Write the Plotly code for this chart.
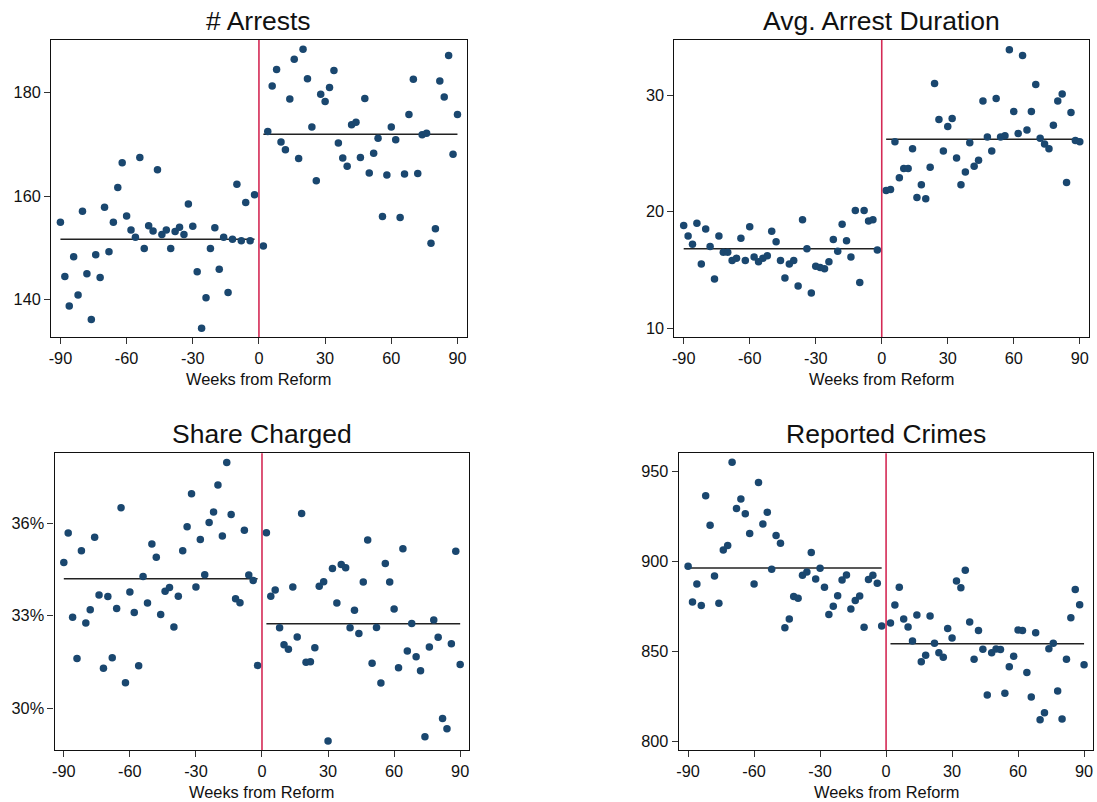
import plotly.graph_objects as go

weeks_pre = list(range(-90, 0, 2))
weeks_post = list(range(2, 91, 2))

arrests_pre = [155.0,144.5,138.8,148.3,140.9,157.1,145.0,136.2,148.7,144.3,
               157.9,149.3,155.0,161.7,166.5,156.2,153.5,152.1,167.5,149.9,
               154.3,153.3,165.1,152.6,153.5,149.9,153.2,154.0,152.6,158.5,
               154.2,145.4,134.5,140.4,149.9,153.9,145.9,152.1,141.4,151.7,
               162.3,151.4,158.8,151.4,160.3]
arrests_post = [150.4,172.5,181.3,184.5,170.5,169.0,178.8,186.5,167.3,188.4,
                182.7,173.4,163.0,179.7,178.3,181.0,184.3,170.3,167.4,165.8,
                173.8,174.3,167.5,178.9,164.5,168.3,171.2,156.1,164.1,173.4,
                170.9,155.9,164.3,175.8,182.6,164.4,171.9,172.2,150.9,153.7,
                182.3,179.2,187.2,168.1,175.8]
duration_pre = [18.8,17.9,17.2,19.0,15.5,18.5,17.0,14.2,17.9,16.5,
                16.5,15.8,16.0,17.7,15.8,18.7,16.1,15.7,16.0,16.2,
                18.3,17.4,15.8,14.3,15.5,15.8,13.6,19.3,16.8,13.0,
                15.3,15.2,15.1,15.7,17.6,16.6,18.9,17.5,16.1,20.1,
                13.9,20.1,19.2,19.3,16.7]
duration_post = [21.8,21.9,26.0,22.9,23.7,23.7,25.4,21.2,22.3,21.1,
                 23.8,31.0,27.9,25.2,27.3,28.0,24.6,22.3,23.4,25.9,
                 23.9,24.4,29.5,26.4,25.2,29.7,26.4,26.5,33.9,28.6,
                 26.7,33.4,27.0,28.6,30.9,26.3,25.8,25.4,27.4,29.5,
                 30.1,22.5,28.5,26.1,26.0]
share_pre = [34.72,35.68,32.95,31.61,35.10,32.76,33.19,35.54,33.67,31.30,
             33.62,31.64,33.23,36.50,30.83,33.77,33.10,31.38,34.27,33.41,
             35.32,34.89,33.04,33.79,33.91,32.63,33.63,35.10,35.88,36.95,
             33.93,35.47,34.33,36.02,36.36,37.23,35.58,37.96,36.28,33.55,
             33.42,35.77,34.32,34.14,31.39]
share_post = [35.69,33.63,33.83,32.61,32.06,31.91,33.93,32.31,36.31,31.49,
              31.51,31.96,33.95,34.10,28.94,34.53,33.41,34.66,34.55,32.61,
              33.18,32.42,34.09,35.45,31.46,32.62,30.82,34.69,34.09,33.22,
              31.31,35.17,31.86,32.75,31.67,31.22,29.08,31.99,32.86,32.30,
              29.67,29.34,32.09,35.09,31.42]
crimes_pre = [897.3,877.4,887.4,875.4,936.6,920.1,891.9,876.7,906.4,908.8,
              955.2,929.4,934.8,926.6,915.5,887.4,943.9,920.9,927.4,895.6,
              914.5,910.1,863.1,867.9,880.4,879.5,892.3,894.1,904.9,890.2,
              896.2,885.6,870.5,875.0,880.9,889.7,892.5,873.5,878.3,880.8,
              863.3,889.9,892.3,887.8,864.1]
crimes_post = [865.7,875.7,885.6,868.0,863.5,855.7,870.2,844.2,847.7,869.6,
               854.4,849.2,846.6,862.6,857.4,889.1,885.4,895.1,866.3,845.5,
               861.5,851.1,825.6,849.2,851.2,850.9,826.6,841.4,847.2,861.8,
               861.6,838.2,824.5,860.3,811.9,815.8,851.4,854.4,827.9,812.3,
               845.5,868.7,884.3,875.9,842.5]

titles = ["# Arrests", "Avg. Arrest Duration", "Share Charged", "Reported Crimes"]
pre_fit = [151.7, 16.8, 34.20, 896.4]
post_fit = [172.0, 26.2, 32.74, 854.2]
y_ticks = [[140, 160, 180], [10, 20, 30], [30, 33, 36], [800, 850, 900, 950]]
y_ticklabels = [["140", "160", "180"], ["10", "20", "30"], ["30%", "33%", "36%"],
                ["800", "850", "900", "950"]]
x_ticks = [-90, -60, -30, 0, 30, 60, 90]
x_ticklabels = ["-90", "-60", "-30", "0", "30", "60", "90"]
x_label = "Weeks from Reform"

series_pre = [arrests_pre, duration_pre, share_pre, crimes_pre]
series_post = [arrests_post, duration_post, share_post, crimes_post]

W, H = 1097, 802
# pixel boxes: left, right, top, bottom
boxes = [(48.3, 465.0, 40, 337), (673.3, 1089.0, 40, 337),
         (51.7, 467.7, 453.3, 750), (677.7, 1093.3, 453.3, 750)]
y_ranges = [[132.8, 190.2], [9.23, 34.73], [28.65, 38.26], [795.0, 960.2]]
x_range = [-94.2, 94.2]

NAVY = "#1a476f"
RED = "#d42a55"
FONT = "Liberation Sans, Arial, sans-serif"

fig = go.Figure()
shapes = []
annotations = []
layout_axes = {}

for i in range(4):
    n = i + 1
    xa = "x" if n == 1 else f"x{n}"
    ya = "y" if n == 1 else f"y{n}"
    l, r, t, b = boxes[i]
    layout_axes["xaxis" if n == 1 else f"xaxis{n}"] = dict(
        domain=[l / W, r / W], range=x_range, anchor=ya,
        tickmode="array", tickvals=x_ticks, ticktext=x_ticklabels,
        ticks="outside", ticklen=6, tickcolor="#333",
        showline=True, mirror=True, linecolor="#111", linewidth=1.3,
        showgrid=False, zeroline=False,
        tickfont=dict(size=16.3, color="#111", family=FONT))
    layout_axes["yaxis" if n == 1 else f"yaxis{n}"] = dict(
        domain=[1 - b / H, 1 - t / H], range=y_ranges[i], anchor=xa,
        tickmode="array", tickvals=y_ticks[i], ticktext=y_ticklabels[i],
        ticks="outside", ticklen=6, tickcolor="#333",
        showline=True, mirror=True, linecolor="#111", linewidth=1.3,
        showgrid=False, zeroline=False,
        tickfont=dict(size=16.3, color="#111", family=FONT))

    # vertical reform line
    shapes.append(dict(type="line", xref=xa, yref=f"{ya} domain",
                       x0=0, x1=0, y0=0, y1=1,
                       line=dict(color=RED, width=1.6)))

    # fit lines
    fig.add_trace(go.Scatter(x=[weeks_pre[0], weeks_pre[-1]], y=[pre_fit[i], pre_fit[i]],
                             mode="lines", line=dict(color="#222", width=1.5),
                             xaxis=xa, yaxis=ya, showlegend=False, hoverinfo="skip"))
    fig.add_trace(go.Scatter(x=[weeks_post[0], weeks_post[-1]], y=[post_fit[i], post_fit[i]],
                             mode="lines", line=dict(color="#222", width=1.5),
                             xaxis=xa, yaxis=ya, showlegend=False, hoverinfo="skip"))
    # points
    fig.add_trace(go.Scatter(x=weeks_pre + weeks_post, y=series_pre[i] + series_post[i],
                             mode="markers", marker=dict(color=NAVY, size=7.5),
                             xaxis=xa, yaxis=ya, showlegend=False))

    cx = (l + r) / 2 / W
    annotations.append(dict(text=titles[i], x=cx, y=1 - (t - 19) / H,
                            xref="paper", yref="paper", xanchor="center", yanchor="middle",
                            showarrow=False, font=dict(size=26.5, color="#111", family=FONT)))
    annotations.append(dict(text=x_label, x=cx, y=1 - (b + 42) / H,
                            xref="paper", yref="paper", xanchor="center", yanchor="middle",
                            showarrow=False, font=dict(size=16.4, color="#111", family=FONT)))

fig.update_layout(width=W, height=H, margin=dict(l=0, r=0, t=0, b=0),
                  paper_bgcolor="white", plot_bgcolor="white",
                  shapes=shapes, annotations=annotations,
                  font=dict(family=FONT), **layout_axes)

fig.write_html("out.html", config={"displayModeBar": False},
               post_script="document.body.style.margin='0';document.body.style.overflow='hidden';")
